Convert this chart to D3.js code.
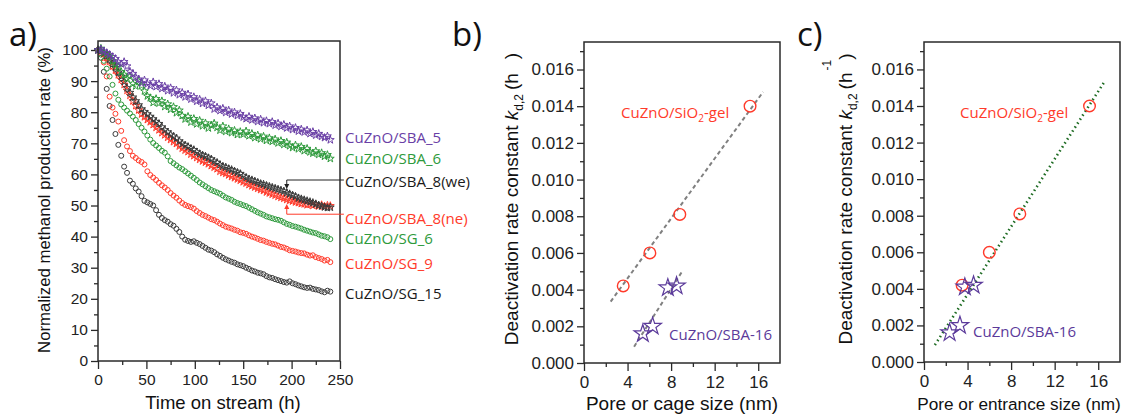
<!DOCTYPE html>
<html><head><meta charset="utf-8">
<script src="https://cdn.jsdelivr.net/npm/d3@7"></script>
<style>body{margin:0;background:#fff}</style>
</head><body>
<svg id="chart" width="1131" height="416"></svg>
<script>
// ---------- Panel a data ----------
const hours = [0,3,6,9,12,15,18,21,24,27,30,33,36,39,42,45,48,51,54,57,60,63,66,69,72,75,78,81,84,87,90,93,96,99,102,105,108,111,114,117,120,123,126,129,132,135,138,141,144,147,150,153,156,159,162,165,168,171,174,177,180,183,186,189,192,195,198,201,204,207,210,213,216,219,222,225,228,231,234,237,240];
const sg15 = [100,97.5,93,87.5,82,77.5,73,69.5,66,62.5,60.5, 58,57,55.5,54.5,53,51.5,51,50.5,50,48.5, 47,46,45.3,44.8,44,43.5,42.5,41.5,40,39, 38.6,38.3,38.5,38,37.6,37,36.4,35.8,35.5,35, 34.3,33.8,33.2,32.7,32.3,31.9,31.6,31.1,30.8,30.5, 30,29.6,29.1,28.8,28.4,28.2,27.9,27.3,26.9,26.7, 26.3,26,25.7,25.4,25.2,25.6,25,24.7,24.3,24, 23.7,23.5,23.6,23.2,23,22.8,22.4,22.1,22.6,22.3];
const sg9 = [100,99.5,96,91.5,85,81.5,79.5,77,74,71,69, 67.5,66,65.3,64.5,64,63.2,61,59.8,59,58.2, 57.3,56.5,55.8,55,54,53.2,52.5,51.6,50.8,50.2, 49.8,49.5,49,48.2,47.6,47,46.6,46.1,45.6,45.3, 44.8,44.2,43.7,43.2,42.9,42.6,42.2,41.9,41.4,41.2, 40.9,40.4,40,39.7,39.3,38.9,38.7,38.3,38,37.7, 37.5,37.1,36.7,36.5,36.1,35.6,35.4,35.2,34.9,34.7, 34.6,34.2,33.9,34,33.4,33.1,32.8,32.3,32.5,31.8];
const sg6 = [100,98.5,96.5,94,91.5,88.8,86,84,82.5,81.5,80.5, 79.6,78.6,77.5,76.2,75,73.8,72.5,71.2,70.1,69.3, 68.5,67.6,67,65.8,64.3,63.6,62.9,62.2,61.7,61, 60.3,59.6,58.9,58.2,57.4,56.8,56.2,55.6,55,54.6, 54.2,53.8,53.2,52.6,52.2,51.8,51.2,50.8,50.5,50.1, 49.8,49.3,48.8,48.3,47.8,47.4,47,46.5,46.2,45.9, 45.6,45.4,45.1,44.6,44.1,43.8,43.4,43.2,42.9,42.6, 42.2,41.9,41.6,41.3,41.1,40.7,40.3,40.1,39.8,39.2];
const sba8we = [100,99.8,99,98.2,97,95.5,94.3,92.8,91.5,89.8,87.8, 86.3,84.8,83.6,82.3,81,80.1,79.4,78.6,77.8,76.9, 76.3,75.2,74.3,73.6,72.8,72.2,71.6,70.7,69.9,69.4, 68.9,68.3,67.9,67.2,66.6,66.2,65.8,65.3,64.9,64.2, 63.8,63.1,62.6,62.3,61.8,61.5,61,60.6,60.2,59.5, 59,58.5,58.2,57.8,57.4,57,56.8,56.4,56.1,55.8, 55.5,55.2,54.9,54.6,54.1,53.7,53.3,52.9,52.4,52.1, 51.8,51.5,51.2,50.9,50.5,50.1,49.8,49.5,49.3,49.4];
const sba8ne = [100,99.5,98.8,97.6,96.3,94.8,93.5,92,90.5,88.9,87, 85.4,83.6,82.1,80.7,79.4,78.5,77.6,76.9,76,75.1, 74.3,73.4,72.7,71.9,71.2,70.5,69.9,69.1,68.4,67.8, 67.3,66.5,66,65.4,64.8,64.3,63.9,63.4,62.8,62.3, 61.8,61,60.6,60.3,59.8,59.3,58.9,58.5,58.1,57.6, 57.2,56.7,56.3,55.9,55.5,55.1,54.8,54.3,54,53.6, 53.3,52.9,52.6,52.3,51.9,51.6,51.4,51.1,50.9,50.6, 50.5,50.2,50.4,50,50.3,49.8,50.2,49.7,50,49.9];
const sba6 = [100,100.5,99.2,98.8,97.9,96.5,95.2,94.6,93,92.1,90.8, 91.5,89.2,88.4,90,88.5,86.8,85.2,84.6,83.1,84.3, 82.9,83.6,81.8,82.6,80.9,81.7,79.8,80.6,78.9,77.8, 78.6,76.8,77.9,76.2,77.3,75.6,76.5,74.9,75.8,76.4, 75.1,74.2,75.5,73.8,74.6,73.4,74.1,72.8,73.7,72.9, 73.9,72.4,73.1,71.8,72.6,71.4,72.2,70.9,71.7,70.6, 71.3,70.1,70.8,69.6,70.3,69.2,68.6,69.4,68.2,68.9, 67.6,68.3,67.2,66.8,67.5,66.4,66.9,65.8,66.3,65.1];
const sba5 = [100,100.3,99.6,99.1,98.5,97.8,97.2,96.1,95.5,96.2,94.8, 93.1,92.4,91.2,90.6,89.4,90.3,89.1,88.5,89.7,88.2, 89.1,87.6,88.3,86.9,87.8,86.2,87.1,85.6,86.3,84.9, 85.8,84.2,84.9,83.5,84.1,82.8,83.6,82.2,82.9,81, 81.6,80.5,81.2,79.9,80.6,79.4,80,78.9,79.5,78.4, 77.9,78.6,77.5,78.1,77,77.7,76.6,77.2,76.3,76.9, 75.8,76.4,75.4,76,74.9,75.5,74.4,75,73.9,74.5, 73.6,74.2,73.1,73.7,72.6,73.1,72.2,71.8,72.3,71.1];
const seriesNames = ["CuZnO/SG_15","CuZnO/SG_9","CuZnO/SG_6","CuZnO/SBA_8(ne)","CuZnO/SBA_8(we)","CuZnO/SBA_6","CuZnO/SBA_5"];
const seriesValues = [sg15, sg9, sg6, sba8ne, sba8we, sba6, sba5];
const seriesColors = ["#3a3a3a","#ff3a2a","#2e9a3c","#ff3a2a","#3a3a3a","#2e9a3c","#6a3fa6"];
const seriesMarker = ["circle","circle","circle","star","star","star","star"];
// label anchor values (in % units) for the right-hand labels
const labelValues = [21.5, 31.2, 39.2, 45.7, 57.6, 65.0, 71.7];
const timeTicks = [0,50,100,150,200,250];
const rateTicks = [0,10,20,30,40,50,60,70,80,90,100];

// ---------- Panels b/c data ----------
const gelPore = [3.6, 6.05, 8.8, 15.25];
const gelKd = [0.0042, 0.0060, 0.0081, 0.0140];
const sbaCage = [5.4, 6.3, 7.7, 8.5];
const sbaKd = [0.0016, 0.0020, 0.0041, 0.0042];
const gelEntrance = [3.5, 6.0, 8.8, 15.2];
const sbaEntrance = [2.35, 3.3, 3.75, 4.55];
const fitGelB = [[2.45, 0.00335],[16.45, 0.01478]];
const fitSbaB = [[4.6, 0.00089],[8.95, 0.00493]];
const fitAllC = [[1.0, 0.00093],[16.5, 0.01526]];
const kdTicks = [0,0.002,0.004,0.006,0.008,0.010,0.012,0.014,0.016];
const sizeTicks = [0,4,8,12,16];

// ---------- drawing ----------
const svg = d3.select("#chart");
const tickFont = "'Liberation Sans', Arial, sans-serif";
const labFont = "'Open Sans', 'Noto Sans', sans-serif";
const axisCol = "#2a2a2a";

function styleAxis(g, fs){
  g.selectAll(".domain").remove();
  g.selectAll(".tick line").attr("stroke", axisCol).attr("stroke-width", 1.3);
  g.selectAll(".tick text").attr("font-family", tickFont).attr("font-size", fs).attr("fill", "#222");
}

function frame(x, y){
  const [x0,x1] = x.range(), [y0,y1] = y.range();
  svg.append("rect").attr("x", x0).attr("y", y1).attr("width", x1-x0).attr("height", y0-y1)
    .attr("fill","none").attr("stroke", axisCol).attr("stroke-width", 1.5);
}

function axes(x, y, xt, xminor, yt, yminor, xfmt, yfmt, fs){
  const [x0] = x.range(), [y0] = y.range();
  const gxm = svg.append("g").attr("transform", `translate(0,${y0})`)
    .call(d3.axisBottom(x).tickValues(xminor).tickFormat("").tickSize(4).tickSizeOuter(0));
  styleAxis(gxm, fs);
  const gx = svg.append("g").attr("transform", `translate(0,${y0})`)
    .call(d3.axisBottom(x).tickValues(xt).tickFormat(xfmt).tickSize(8).tickPadding(5).tickSizeOuter(0));
  styleAxis(gx, fs);
  const gym = svg.append("g").attr("transform", `translate(${x0},0)`)
    .call(d3.axisLeft(y).tickValues(yminor).tickFormat("").tickSize(4).tickSizeOuter(0));
  styleAxis(gym, fs);
  const gy = svg.append("g").attr("transform", `translate(${x0},0)`)
    .call(d3.axisLeft(y).tickValues(yt).tickFormat(yfmt).tickSize(7).tickPadding(3).tickSizeOuter(0));
  styleAxis(gy, fs);
}

// Panel a
const xa = d3.scaleLinear().domain([0,250]).range([98,340]);
const ya = d3.scaleLinear().domain([0,102.9]).range([361,41]);
axes(xa, ya, timeTicks, [25,75,125,175,225], rateTicks, [5,15,25,35,45,55,65,75,85,95], d3.format("d"), d3.format("d"), 15.5);
const starSmall = d3.symbol().type(d3.symbolStar).size(19);
seriesValues.forEach((vals, i) => {
  const g = svg.append("g");
  const pts = hours.map((t, j) => [t, vals[j]]);
  if (seriesMarker[i] === "circle") {
    g.selectAll("circle").data(pts).join("circle")
      .attr("cx", d => xa(d[0])).attr("cy", d => ya(d[1])).attr("r", 2.5)
      .attr("fill","none").attr("stroke", seriesColors[i]).attr("stroke-width", 1);
  } else {
    g.selectAll("path").data(pts).join("path")
      .attr("d", starSmall).attr("transform", d => `translate(${xa(d[0])},${ya(d[1])})`)
      .attr("fill","none").attr("stroke", seriesColors[i]).attr("stroke-width", 1);
  }
});
frame(xa, ya);
// labels
seriesNames.forEach((n, i) => {
  svg.append("text").attr("x", 345).attr("y", ya(labelValues[i])).attr("dy", "0.35em")
    .attr("font-family", labFont).attr("font-size", 15).attr("fill", seriesColors[i] === "#3a3a3a" ? "#1a1a1a" : seriesColors[i])
    .text(n);
});
// connectors with arrows
function connector(tx, vLine, vTip, col, dir){
  const xL = xa(tx), yL = ya(vLine), yT = ya(vTip);
  svg.append("path").attr("d", `M${xa(254)},${yL}H${xL}V${yT - dir*4}`)
    .attr("fill","none").attr("stroke", col).attr("stroke-width", 1);
  svg.append("path").attr("d", `M${xL-2.5},${yT - dir*5}L${xL+2.5},${yT - dir*5}L${xL},${yT}Z`).attr("fill", col);
}
connector(195, 58.2, 55.3, "#222", 1);
connector(195, 47.2, 50.5, "#ff3a2a", -1);
svg.append("text").attr("x", 9).attr("y", 46).attr("font-family", labFont).attr("font-size", 33).attr("fill","#111").text("a)");
svg.append("text").attr("x", 223).attr("y", 409).attr("text-anchor","middle").attr("font-family", tickFont).attr("font-size", 18.5).attr("fill","#111").text("Time on stream (h)");
svg.append("text").attr("transform", "translate(50,200) rotate(-90)").attr("text-anchor","middle")
  .attr("font-family", tickFont).attr("font-size", 16.8).attr("fill","#111").text("Normalized methanol production rate (%)");

// Panels b and c
function kdPanel(x, y, gelX, sbaX, fits, fitStyle, xTitle, titleX, titleFs, showSup, yLabX, tag, tagX){
  axes(x, y, sizeTicks, [2,6,10,14], kdTicks, [0.001,0.003,0.005,0.007,0.009,0.011,0.013,0.015,0.017], d3.format("d"), d3.format(".3f"), 17);
  fits.forEach(f => {
    svg.append("line").attr("x1", x(f[0][0])).attr("y1", y(f[0][1])).attr("x2", x(f[1][0])).attr("y2", y(f[1][1]))
      .attr("stroke", fitStyle.color).attr("stroke-width", fitStyle.width).attr("stroke-dasharray", fitStyle.dash);
  });
  svg.append("g").selectAll("circle").data(gelX.map((v,i)=>[v, gelKd[i]])).join("circle")
    .attr("cx", d => x(d[0])).attr("cy", d => y(d[1])).attr("r", 5.8)
    .attr("fill","none").attr("stroke","#ff3a2a").attr("stroke-width", 1.4);
  const star = d3.symbol().type(d3.symbolStar).size(95);
  svg.append("g").selectAll("path").data(sbaX.map((v,i)=>[v, sbaKd[i]])).join("path")
    .attr("d", star).attr("transform", d => `translate(${x(d[0])},${y(d[1])})`)
    .attr("fill","none").attr("stroke","#5b3a9a").attr("stroke-width", 1.2);
  frame(x, y);
  svg.append("text").attr("x", titleX).attr("y", 410).attr("text-anchor","middle")
    .attr("font-family", tickFont).attr("font-size", titleFs).attr("fill","#111").text(xTitle);
  const t = svg.append("text").attr("transform", `translate(${yLabX},199) rotate(-90)`).attr("text-anchor","middle")
    .attr("font-family", tickFont).attr("font-size", 19).attr("fill","#111");
  t.append("tspan").text("Deactivation rate constant ");
  t.append("tspan").attr("font-style","italic").text("k");
  t.append("tspan").attr("font-size", 12).attr("dy", 5).text("d,2");
  t.append("tspan").attr("dy", -5).attr("dx", 4).text("(h");
  if (showSup) {
    t.append("tspan").attr("font-size", 12).attr("dy", -21).attr("dx", 2).text("-1");
    t.append("tspan").attr("dy", 21).attr("dx", 0).text(")");
  } else {
    t.append("tspan").attr("dx", 14).text(")");
  }
  svg.append("text").attr("x", tagX).attr("y", 46).attr("font-family", labFont).attr("font-size", 33).attr("fill","#111").text(tag);
}
const xb = d3.scaleLinear().domain([0,18]).range([584,780]);
const yb = d3.scaleLinear().domain([0,0.0175]).range([363,42]);
kdPanel(xb, yb, gelPore, sbaCage, [fitGelB, fitSbaB], {color:"#808080", width:2, dash:"4,3"}, "Pore or cage size (nm)", 682, 19, false, 518, "b)", 452);
const xc = d3.scaleLinear().domain([0,18]).range([924,1120]);
const yc = d3.scaleLinear().domain([0,0.0175]).range([362,42]);
kdPanel(xc, yc, gelEntrance, sbaEntrance, [fitAllC], {color:"#1d6b22", width:2.6, dash:"1.5,3.2"}, "Pore or entrance size (nm)", 1019, 17.2, true, 852, "c)", 797);

// in-panel labels
function gelLabel(x0, yv, y){
  const t = svg.append("text").attr("x", x0).attr("y", y(yv)).attr("dy","0.35em")
    .attr("font-family", labFont).attr("font-size", 15).attr("fill","#ff3a2a");
  t.append("tspan").text("CuZnO/SiO");
  t.append("tspan").attr("font-size", 10).attr("dy", 4).text("2");
  t.append("tspan").attr("dy", -4).text("-gel");
}
gelLabel(621, 0.01365, yb);
gelLabel(960, 0.01365, yc);
svg.append("text").attr("x", 669).attr("y", yb(0.00155)).attr("dy","0.35em").attr("font-family", labFont).attr("font-size", 15).attr("fill","#5b3a9a").text("CuZnO/SBA-16");
svg.append("text").attr("x", 973).attr("y", yc(0.00165)).attr("dy","0.35em").attr("font-family", labFont).attr("font-size", 15).attr("fill","#5b3a9a").text("CuZnO/SBA-16");
</script>
</body></html>
